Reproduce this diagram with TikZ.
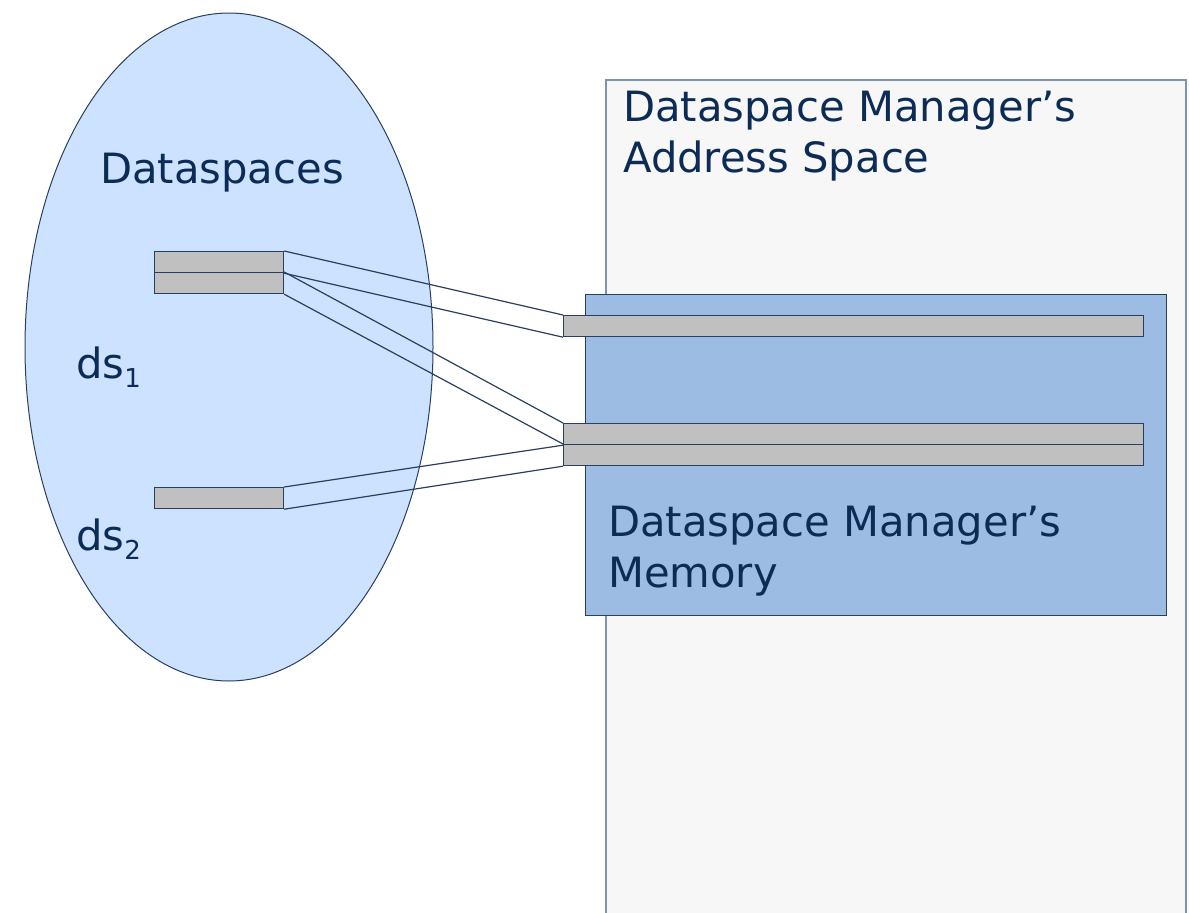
\documentclass[tikz,border=0pt]{standalone}
\usepackage{fontspec}
\setmainfont{DejaVu Sans}
\definecolor{txt}{HTML}{0C2C56}
\definecolor{edge}{HTML}{2A3F5F}
\definecolor{ellfill}{HTML}{CCE2FF}
\definecolor{memfill}{HTML}{9DBCE3}
\definecolor{addrfill}{HTML}{F7F7F7}
\definecolor{addredge}{HTML}{7F93AD}
\definecolor{barfill}{HTML}{C0C0C0}
\begin{document}
\begin{tikzpicture}[x=1pt,y=-1pt,
  barbox/.style={draw=edge,line width=1.2pt,fill=barfill},
  lbl/.style={text=txt,inner sep=0pt,align=left,font=\fontsize{41.7}{50.5}\selectfont},
  sub/.style={font=\fontsize{26}{30}\selectfont},
  link/.style={draw=edge,line width=1.2pt}]
\useasboundingbox (0,0) rectangle (1189,913);
% address space
\path[fill=addrfill,draw=addredge,line width=1.2pt] (606,80) rectangle (1186,920);
\node[lbl,anchor=north west] (addr) at (623,91) {Dataspace Manager’s\\Address Space};
% ellipse
\path[fill=ellfill,draw=edge,line width=1pt] (229,347) ellipse [x radius=204,y radius=334];
\node[lbl,anchor=base west] (dsp) at (100,183) {Dataspaces};
\node[lbl,anchor=base west] (ds1) at (76,378) {ds\raisebox{-0.22em}{\fontsize{26}{30}\selectfont 1}};
\node[lbl,anchor=base west] (ds2) at (76,550) {ds\raisebox{-0.22em}{\fontsize{26}{30}\selectfont 2}};
% memory
\path[fill=memfill,draw=edge,line width=1pt] (585,294) rectangle (1166,615);
\node[lbl,anchor=north west] (mem) at (608,506) {Dataspace Manager’s\\Memory};
% bars
\node[barbox,inner sep=0pt,minimum width=129pt,minimum height=21pt,anchor=north west] (a1) at (154,251) {};
\node[barbox,inner sep=0pt,minimum width=129pt,minimum height=21pt,anchor=north west] (a2) at (154,272) {};
\node[barbox,inner sep=0pt,minimum width=129pt,minimum height=21pt,anchor=north west] (b1) at (154,487) {};
\node[barbox,inner sep=0pt,minimum width=580pt,minimum height=21pt,anchor=north west] (m1) at (563,315) {};
\node[barbox,inner sep=0pt,minimum width=580pt,minimum height=21pt,anchor=north west] (m2) at (563,423) {};
\node[barbox,inner sep=0pt,minimum width=580pt,minimum height=21pt,anchor=north west] (m3) at (563,444) {};
% links
\draw[link] (a1.north east) -- (m1.north west);
\draw[link] (a1.south east) -- (m1.south west);
\draw[link] (a2.north east) -- (m2.north west);
\draw[link] (a2.south east) -- (m3.north west);
\draw[link] (b1.north east) -- (m2.south west);
\draw[link] (b1.south east) -- (m3.south west);
\end{tikzpicture}
\end{document}
